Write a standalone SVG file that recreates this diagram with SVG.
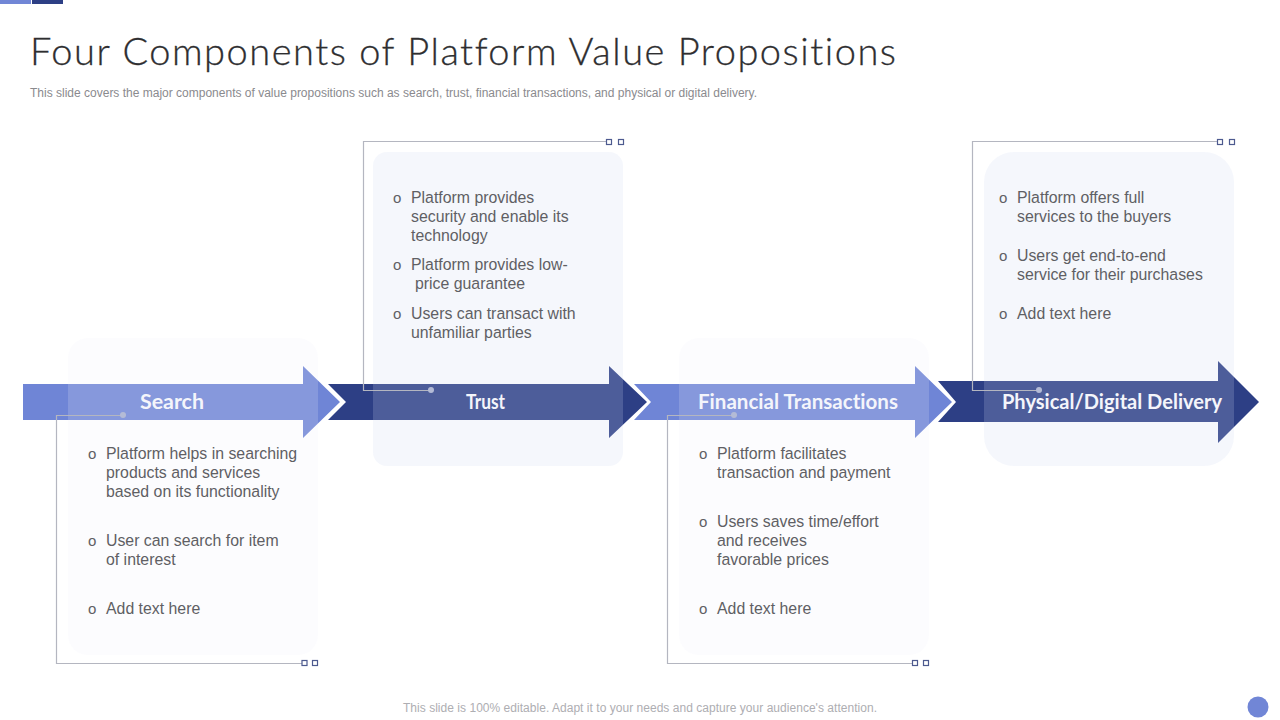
<svg xmlns="http://www.w3.org/2000/svg" width="1280" height="720" viewBox="0 0 1280 720">
<style>
.t{font-family:"Liberation Sans",Arial,sans-serif;font-size:15.85px;fill:#5f5f64}
.b{font-family:"Liberation Sans",Arial,sans-serif;font-size:15px;fill:#5f5f64}
.h{font-family:"Lato","Liberation Sans",sans-serif;font-size:20px;font-weight:700;fill:#f4f5fb;font-variant-ligatures:none}
.l{fill:none;stroke:#b4b6c0;stroke-width:1.2}
.sq{fill:#fff;stroke:#4d5a8f;stroke-width:1.2}
.dot{fill:#b4bbd6}
.light{fill:#6f85d6}.dark{fill:#2d3f85}
.pl{fill:#eef0f9;fill-opacity:.18}
.pd{fill:#cdd5f0;fill-opacity:.2}
</style>
<rect x="0" y="0" width="31" height="4" fill="#7186d6"/>
<rect x="32" y="0" width="31" height="4" fill="#2d3f85"/>
<text x="30" y="65" font-family="Lato,'Liberation Sans',sans-serif" font-weight="300" font-size="38" fill="#2e2e30" stroke="#2e2e30" stroke-width=".3" style="font-variant-ligatures:none" textLength="866" lengthAdjust="spacing">Four Components of Platform Value Propositions</text>
<text x="30" y="97" font-family="'Liberation Sans',Arial,sans-serif" font-size="12" fill="#8a8a8e" textLength="727" lengthAdjust="spacing">This slide covers the major components of value propositions such as search, trust, financial transactions, and physical or digital delivery.</text>

<g id="arrows">
<path id="arrow-search" class="light" d="M23 384H303V366L340 402L303 438V420H23Z"/>
<path id="arrow-trust" class="dark" d="M328 384H609V366L647 402L609 438V420H328L346 402Z"/>
<path id="arrow-financial" class="light" d="M634 384H915V366L952 402L915 438V420H634L651 402Z"/>
<path id="arrow-delivery" class="dark" d="M938 381H1218V361L1259 402L1218 443V422H938L956 402Z"/>
</g>

<g id="node-search">
<rect class="pl" x="68" y="338" width="250" height="317" rx="20"/>
<text class="h" x="140" y="409" textLength="64" lengthAdjust="spacingAndGlyphs">Search</text>
<text class="b" x="88" y="459">o</text>
<text class="t" x="106" y="459">Platform helps in searching</text>
<text class="t" x="106" y="478">products and services</text>
<text class="t" x="106" y="497">based on its functionality</text>
<text class="b" x="88" y="546">o</text>
<text class="t" x="106" y="546">User can search for item</text>
<text class="t" x="106" y="565">of interest</text>
<text class="b" x="88" y="614">o</text>
<text class="t" x="106" y="614">Add text here</text>
</g>

<g id="node-trust">
<rect class="pd" x="373" y="152" width="250" height="314" rx="14"/>
<text class="h" x="466" y="409" textLength="39" lengthAdjust="spacingAndGlyphs">Trust</text>
<text class="b" x="393" y="203">o</text>
<text class="t" x="411" y="203">Platform provides</text>
<text class="t" x="411" y="222">security and enable its</text>
<text class="t" x="411" y="241">technology</text>
<text class="b" x="393" y="270">o</text>
<text class="t" x="411" y="270">Platform provides low-</text>
<text class="t" x="415" y="289">price guarantee</text>
<text class="b" x="393" y="319">o</text>
<text class="t" x="411" y="319">Users can transact with</text>
<text class="t" x="411" y="338">unfamiliar parties</text>
</g>

<g id="node-financial">
<rect class="pl" x="679" y="338" width="250" height="317" rx="20"/>
<text class="h" x="698" y="409" textLength="200" lengthAdjust="spacingAndGlyphs">Financial Transactions</text>
<text class="b" x="699" y="459">o</text>
<text class="t" x="717" y="459">Platform facilitates</text>
<text class="t" x="717" y="478">transaction and payment</text>
<text class="b" x="699" y="527">o</text>
<text class="t" x="717" y="527">Users saves time/effort</text>
<text class="t" x="717" y="546">and receives</text>
<text class="t" x="717" y="565">favorable prices</text>
<text class="b" x="699" y="614">o</text>
<text class="t" x="717" y="614">Add text here</text>
</g>

<g id="node-delivery">
<rect class="pd" x="984" y="152" width="250" height="314" rx="30"/>
<text class="h" x="1002" y="409" textLength="220" lengthAdjust="spacingAndGlyphs">Physical/Digital Delivery</text>
<text class="b" x="999" y="203">o</text>
<text class="t" x="1017" y="203">Platform offers full</text>
<text class="t" x="1017" y="222">services to the buyers</text>
<text class="b" x="999" y="261">o</text>
<text class="t" x="1017" y="261">Users get end-to-end</text>
<text class="t" x="1017" y="280">service for their purchases</text>
<text class="b" x="999" y="319">o</text>
<text class="t" x="1017" y="319">Add text here</text>
</g>

<g id="connectors">
<path class="l" d="M123 415.500H56.500V663.500H302"/><circle class="dot" cx="123" cy="415" r="3"/>
<rect class="sq" x="302" y="660.500" width="5" height="5"/><rect class="sq" x="312.500" y="660.500" width="5" height="5"/>
<path class="l" d="M431 390.500H363.500V141.500H606"/><circle class="dot" cx="431" cy="390" r="3"/>
<rect class="sq" x="606.500" y="139.500" width="5" height="5"/><rect class="sq" x="618.500" y="139.500" width="5" height="5"/>
<path class="l" d="M734 415.500H667.500V663.500H912"/><circle class="dot" cx="734" cy="415" r="3"/>
<rect class="sq" x="912.500" y="660.500" width="5" height="5"/><rect class="sq" x="923.500" y="660.500" width="5" height="5"/>
<path class="l" d="M1039 390.500H972.500V141.500H1217"/><circle class="dot" cx="1039" cy="390" r="3"/>
<rect class="sq" x="1217.500" y="139.500" width="5" height="5"/><rect class="sq" x="1229.500" y="139.500" width="5" height="5"/>
</g>

<text x="403" y="712" font-family="'Liberation Sans',Arial,sans-serif" font-size="12" fill="#aeaeb2" textLength="474" lengthAdjust="spacing">This slide is 100% editable. Adapt it to your needs and capture your audience's attention.</text>
<circle cx="1258" cy="707" r="10.500" fill="#7186d6"/>
</svg>
